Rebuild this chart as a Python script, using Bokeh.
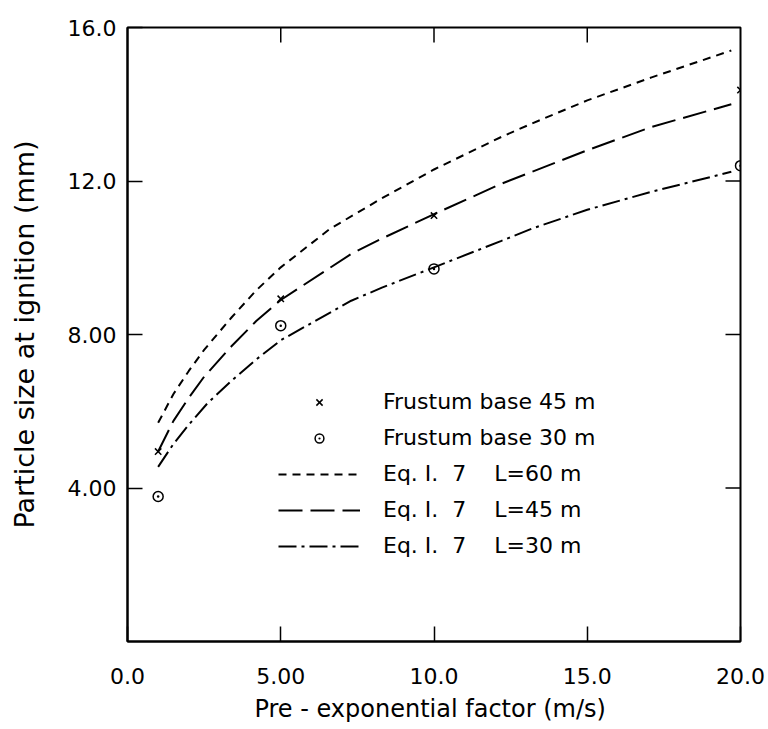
import math
from bokeh.plotting import figure
from bokeh.models import Range1d, FixedTicker, Legend, LegendItem
from bokeh.embed import file_html
from bokeh.resources import INLINE

# ---- data ----
l60_x = [1.0, 1.5, 2.0, 2.5, 3.4, 4.2, 5.0, 6.6, 8.3, 10.0, 12.2, 13.2, 15.0, 17.1, 19.7]
l60_y = [5.7, 6.45, 7.05, 7.6, 8.45, 9.15, 9.75, 10.75, 11.55, 12.3, 13.15, 13.5, 14.1, 14.7, 15.4]

l45_x = [1.0, 1.5, 2.0, 2.5, 3.4, 4.2, 5.0, 7.3, 8.3, 9.9, 12.2, 13.2, 15.0, 17.1, 19.7]
l45_y = [4.95, 5.75, 6.35, 6.9, 7.7, 8.35, 8.9, 10.1, 10.5, 11.1, 11.93, 12.24, 12.8, 13.41, 14.0]

l30_x = [1.0, 1.5, 2.0, 2.6, 3.4, 4.2, 5.0, 7.3, 8.3, 10.0, 12.2, 13.2, 15.0, 17.1, 19.7]
l30_y = [4.55, 5.15, 5.65, 6.2, 6.8, 7.35, 7.85, 8.88, 9.22, 9.75, 10.44, 10.76, 11.25, 11.72, 12.24]

f45_x = [1.0, 5.0, 10.0, 20.0]
f45_y = [4.95, 8.93, 11.1, 14.37]

f30_x = [1.0, 5.0, 10.0, 20.0]
f30_y = [3.78, 8.23, 9.71, 12.4]

xtick_vals = [0, 5, 10, 15, 20]
xtick_labels = ["0.0", "5.00", "10.0", "15.0", "20.0"]
ytick_vals = [4, 8, 12, 16]
ytick_labels = ["4.00", "8.00", "12.0", "16.0"]

legend_labels = ["Frustum base 45 m", "Frustum base 30 m",
                 "Eq. I.  7    L=60 m", "Eq. I.  7    L=45 m", "Eq. I.  7    L=30 m"]

FONT = "DejaVu Sans"
X_MIN, X_MAX, Y_MIN, Y_MAX = 0, 20, 0, 16

p = figure(width=768, height=729, output_backend="svg", toolbar_location=None,
           x_range=Range1d(X_MIN, X_MAX), y_range=Range1d(Y_MIN, Y_MAX),
           min_border_left=127, min_border_right=28, min_border_top=27,
           min_border_bottom=88)
p.background_fill_color = "white"
p.border_fill_color = "white"
p.grid.visible = False
p.outline_line_color = "black"
p.outline_line_width = 2

for ax in p.xaxis + p.yaxis:
    ax.major_tick_in = 15
    ax.major_tick_out = 0
    ax.minor_tick_in = 0
    ax.minor_tick_out = 0
    ax.axis_line_color = "black"
    ax.axis_line_width = 2
    ax.major_tick_line_width = 1.5
    ax.major_label_text_font = FONT
    ax.major_label_text_font_size = "22px"
    ax.major_label_text_color = "black"
    ax.axis_label_text_font = FONT
    ax.axis_label_text_font_style = "normal"
    ax.axis_label_text_color = "black"

p.xaxis.ticker = FixedTicker(ticks=xtick_vals)
p.xaxis.major_label_overrides = dict(zip(xtick_vals, xtick_labels))
p.yaxis.ticker = FixedTicker(ticks=ytick_vals)
p.yaxis.major_label_overrides = dict(zip(ytick_vals, ytick_labels))
p.xaxis.axis_label = "Pre - exponential factor  (m/s)"
p.yaxis.axis_label = "Particle size at ignition (mm)"
p.xaxis.axis_label_text_font_size = "24px"
p.yaxis.axis_label_text_font_size = "27px"
p.xaxis.major_label_standoff = 26
p.xaxis.axis_label_standoff = 8
p.yaxis.major_label_standoff = 11
p.yaxis.axis_label_standoff = 25

# mirrored inward ticks on the top and right edges of the frame
p.ray(x=xtick_vals[1:-1], y=[Y_MAX] * (len(xtick_vals) - 2), length=15,
      length_units="screen", angle=-math.pi / 2, line_color="black", line_width=1.5)
p.ray(x=[X_MAX] * len(ytick_vals[:-1]), y=ytick_vals[:-1], length=15,
      length_units="screen", angle=math.pi, line_color="black", line_width=1.5)

# curves
r60 = p.line(l60_x, l60_y, line_color="black", line_width=2, line_dash="8 6")
r45 = p.line(l45_x, l45_y, line_color="black", line_width=2, line_dash="24 8")
r30 = p.line(l30_x, l30_y, line_color="black", line_width=2, line_dash="18 5 3 5")

# measured points
rf45 = p.scatter(f45_x, f45_y, marker="x", size=9, line_color="black", line_width=1.5)
rf30 = p.scatter(f30_x, f30_y, marker="circle_dot", size=10, line_color="black",
                 fill_color=None, line_width=1.5)

legend = Legend(items=[
    LegendItem(label=legend_labels[0], renderers=[rf45]),
    LegendItem(label=legend_labels[1], renderers=[rf30]),
    LegendItem(label=legend_labels[2], renderers=[r60]),
    LegendItem(label=legend_labels[3], renderers=[r45]),
    LegendItem(label=legend_labels[4], renderers=[r30]),
], location=(151, 83))
legend.glyph_width = 82
legend.glyph_height = 22
legend.label_height = 22
legend.spacing = 11
legend.label_standoff = 23
legend.padding = 0
legend.margin = 0
legend.border_line_alpha = 0
legend.background_fill_alpha = 0
legend.label_text_font = FONT
legend.label_text_font_size = "22px"
legend.label_text_color = "black"
p.add_layout(legend, "center")

open("out.html", "w").write(file_html(p, INLINE))
